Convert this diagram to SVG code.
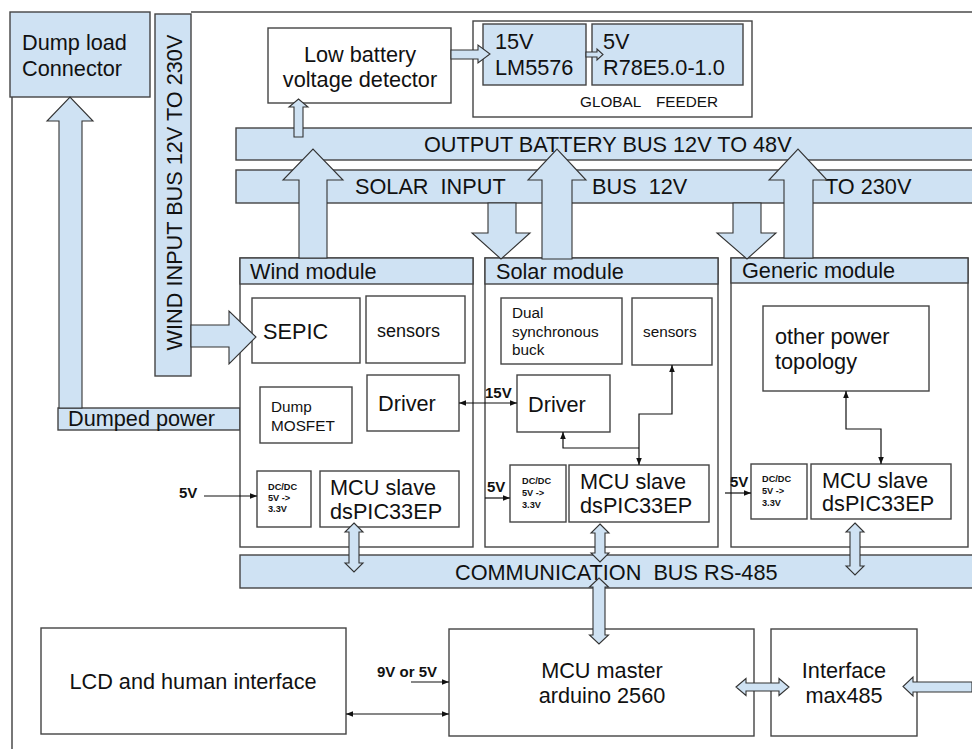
<svg xmlns="http://www.w3.org/2000/svg" width="972" height="749" viewBox="0 0 972 749">
<defs>
<style>
text{font-family:"Liberation Sans",Arial,sans-serif;fill:#111}
.L{font-size:21.7px}
.M{font-size:15.3px}
.S{font-size:9.2px;font-weight:bold}
.B{font-size:15px;font-weight:bold}
.blue{fill:#cfe2f3;stroke:#444;stroke-width:1.4}
.box{fill:#fff;stroke:#444;stroke-width:1.4}
.barr{fill:#cfe2f3;stroke:#333;stroke-width:1.1}
.wire{fill:none;stroke:#111;stroke-width:1.2}
.frame{fill:none;stroke:#777;stroke-width:2}
</style>
<marker id="ah" viewBox="0 0 10 10" refX="10" refY="5" markerWidth="7" markerHeight="7" markerUnits="userSpaceOnUse" orient="auto-start-reverse"><path d="M0,1 L10,5 L0,9 Z" fill="#111"/></marker>
</defs>
<rect width="972" height="749" fill="#fff"/>
<path class="frame" d="M12,97 V749 M191,12 H972"/>

<g id="dump-load-connector"><rect class="blue" x="10" y="12" width="140" height="85"/><text class="L" x="22" y="50">Dump load</text><text class="L" x="22" y="76">Connector</text></g>
<g id="wind-input-bus"><rect class="blue" x="155" y="14" width="36" height="362"/><text class="L" transform="translate(182,192.5) rotate(-90)" text-anchor="middle">WIND INPUT BUS 12V TO 230V</text></g>
<g id="dumped-power"><rect class="blue" x="58" y="408" width="182" height="22"/><text class="L" x="68" y="426">Dumped power</text></g>

<g id="low-battery"><rect class="box" x="268" y="28" width="183" height="75"/><text class="L" x="360" y="62" text-anchor="middle">Low battery</text><text class="L" x="360" y="87" text-anchor="middle">voltage detector</text></g>
<g id="global-feeder"><rect class="box" x="473" y="21" width="279" height="96"/><text class="M" x="580" y="107">GLOBAL</text><text class="M" x="656" y="107">FEEDER</text></g>
<g id="reg-15v"><rect class="blue" x="483" y="24" width="103" height="61"/><text class="L" x="495" y="49">15V</text><text class="L" x="495" y="75">LM5576</text></g>
<g id="reg-5v"><rect class="blue" x="592" y="24" width="151" height="61"/><text class="L" x="603" y="49">5V</text><text class="L" x="603" y="75">R78E5.0-1.0</text></g>

<g id="output-battery-bus"><rect class="blue" x="236" y="128" width="740" height="32"/><text class="L" x="424" y="152">OUTPUT BATTERY BUS 12V TO 48V</text></g>
<g id="solar-input-bus"><rect class="blue" x="236" y="170" width="740" height="33"/><text class="L" x="355" y="194" xml:space="preserve">SOLAR  INPUT</text><text class="L" x="592" y="194" xml:space="preserve">BUS  12V</text><text class="L" x="825" y="194">TO 230V</text></g>
<g id="communication-bus"><rect class="blue" x="240" y="555" width="736" height="33"/><text class="L" x="455" y="580" xml:space="preserve">COMMUNICATION  BUS RS-485</text></g>

<g id="wind-module">
<rect class="box" x="240" y="258" width="233" height="289"/><rect class="blue" x="240" y="258" width="233" height="26"/><text class="L" x="250" y="279">Wind module</text>
<rect class="box" x="252" y="298" width="108" height="65"/><text class="L" x="263" y="339">SEPIC</text>
<rect class="box" x="366" y="296" width="99" height="67"/><text x="377" y="337" style="font-size:18px">sensors</text>
<rect class="box" x="260" y="387" width="92" height="56"/><text class="M" x="271" y="412">Dump</text><text class="M" x="271" y="431">MOSFET</text>
<rect class="box" x="367" y="375" width="92" height="56"/><text class="L" x="378" y="411">Driver</text>
<rect class="box" x="257" y="471" width="54" height="56"/><text class="S" x="268" y="490">DC/DC</text><text class="S" x="268" y="501">5V -&gt;</text><text class="S" x="268" y="512">3.3V</text>
<rect class="box" x="320" y="471" width="139" height="56"/><text class="L" x="330" y="495">MCU slave</text><text class="L" x="330" y="519">dsPIC33EP</text>
</g>
<g id="solar-module">
<rect class="box" x="485" y="258" width="233" height="289"/><rect class="blue" x="485" y="258" width="233" height="26"/><text class="L" x="496" y="279">Solar module</text>
<rect class="box" x="501" y="298" width="121" height="66"/><text class="M" x="512" y="318">Dual</text><text class="M" x="512" y="337">synchronous</text><text class="M" x="512" y="355">buck</text>
<rect class="box" x="632" y="298" width="80" height="67"/><text class="M" x="643" y="337">sensors</text>
<rect class="box" x="517" y="375" width="93" height="57"/><text class="L" x="528" y="412">Driver</text>
<rect class="box" x="510" y="465" width="56" height="57"/><text class="S" x="522" y="484">DC/DC</text><text class="S" x="522" y="496">5V -&gt;</text><text class="S" x="522" y="508">3.3V</text>
<rect class="box" x="569" y="465" width="140" height="57"/><text class="L" x="580" y="489">MCU slave</text><text class="L" x="580" y="513">dsPIC33EP</text>
</g>
<g id="generic-module">
<rect class="box" x="731" y="258" width="237" height="289"/><rect class="blue" x="731" y="258" width="237" height="25"/><text class="L" x="742" y="278">Generic module</text>
<rect class="box" x="763" y="306" width="166" height="85"/><text class="L" x="775" y="344">other power</text><text class="L" x="775" y="369">topology</text>
<rect class="box" x="751" y="464" width="56" height="55"/><text class="S" x="762" y="482">DC/DC</text><text class="S" x="762" y="494">5V -&gt;</text><text class="S" x="762" y="506">3.3V</text>
<rect class="box" x="811" y="464" width="140" height="55"/><text class="L" x="822" y="488">MCU slave</text><text class="L" x="822" y="511">dsPIC33EP</text>
</g>

<g id="lcd"><rect class="box" x="41" y="628" width="305" height="106"/><text class="L" x="193" y="689" text-anchor="middle">LCD and human interface</text></g>
<g id="mcu-master"><rect class="box" x="449" y="629" width="305" height="107"/><text class="L" x="602" y="678" text-anchor="middle">MCU master</text><text class="L" x="602" y="703" text-anchor="middle">arduino 2560</text></g>
<g id="interface-max485"><rect class="box" x="771" y="629" width="146" height="107"/><text class="L" x="844" y="678" text-anchor="middle">Interface</text><text class="L" x="844" y="703" text-anchor="middle">max485</text></g>

<g id="connectors">
<path class="barr" d="M59,408 V121 H47 L70,97 L93,121 H82 V408 Z"/>
<path class="barr" d="M294,137 V107 H289 L298.5,99 L308,107 H303 V137 Z"/>
<path class="barr" d="M451,50 H478 V45 L490,54 L478,63 V59 H451 Z"/>
<path class="barr" d="M586,52 H597 V49 L603,54.5 L597,60 V57 H586 Z"/>
<path class="barr" d="M191,325 H229 V311 L256,337 L229,364 V347 H191 Z"/>
<path class="barr" d="M299,258 V180 H283 L313,149 L343,180 H327 V258 Z"/>
<path class="barr" d="M542,259 V180 H528 L557,149 L586,180 H572 V259 Z"/>
<path class="barr" d="M784,258 V180 H769 L798,149 L827,180 H813 V258 Z"/>
<path class="barr" d="M488,203 V233 H472 L501,259 L530,233 H516 V203 Z"/>
<path class="barr" d="M733,203 V233 H717 L747,259 L776,233 H761 V203 Z"/>
<path class="barr" d="M354,523 L363,532 H359 V563 H363 L354,572 L345,563 H349 V532 H345 Z"/>
<path class="barr" d="M600,524 L609,533 H605 V553 H609 L600,562 L591,553 H595 V533 H591 Z"/>
<path class="barr" d="M855,523 L864,532 H860 V566 H864 L855,575 L846,566 H850 V532 H846 Z"/>
<path class="barr" d="M599,578 L608.5,587 H605 V635 H608.5 L599,644 L589.5,635 H593 V587 H589.5 Z"/>
<path class="barr" d="M736,687 L746,678.5 V683 H779 V678.5 L789,687 L779,695.5 V691 H746 V695.5 Z"/>
<path class="barr" d="M972,682 H913 V677 L903,686.5 L913,696 V692 H972 Z"/>
<line class="wire" x1="204" y1="496" x2="257" y2="496" marker-end="url(#ah)"/>
<line class="wire" x1="459" y1="403" x2="517" y2="403" marker-start="url(#ah)" marker-end="url(#ah)"/>
<line class="wire" x1="485" y1="498" x2="510" y2="498" marker-end="url(#ah)"/>
<path class="wire" d="M672,365 V414 H639 V465" marker-start="url(#ah)" marker-end="url(#ah)"/>
<path class="wire" d="M563,432 V448 H639" marker-start="url(#ah)"/>
<path class="wire" d="M846,391 V429 H881 V464" marker-start="url(#ah)" marker-end="url(#ah)"/>
<line class="wire" x1="725" y1="493" x2="751" y2="493" marker-end="url(#ah)"/>
<line class="wire" x1="411" y1="682" x2="449" y2="682" marker-end="url(#ah)"/>
<line class="wire" x1="346" y1="714" x2="449" y2="714" marker-start="url(#ah)" marker-end="url(#ah)"/>
<text class="B" x="179" y="498">5V</text>
<text class="B" x="485" y="398">15V</text>
<text class="B" x="487" y="492">5V</text>
<text class="B" x="730" y="487">5V</text>
<text class="B" x="377" y="677">9V or 5V</text>
</g>
</svg>
